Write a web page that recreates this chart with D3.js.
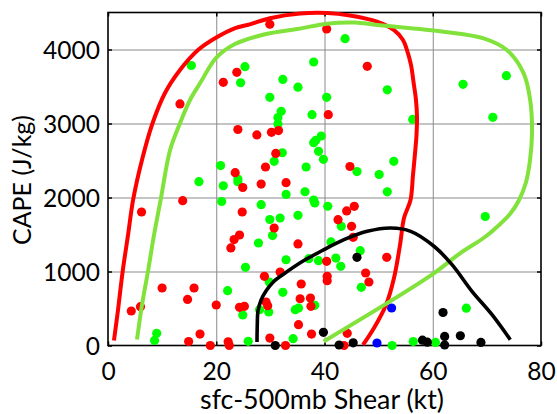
<!DOCTYPE html>
<html><head><meta charset="utf-8">
<script src="https://cdn.jsdelivr.net/npm/d3@7"></script>
<style>
html,body{margin:0;padding:0;background:#fff;}
svg{display:block;font-family:Lato,"Open Sans",sans-serif;}
</style></head>
<body><svg id="c" width="557" height="414"></svg>
<script>
// ---- data (kt, J/kg) ----
const xTicks = [0, 20, 40, 60, 80];
const yTicks = [0, 1000, 2000, 3000, 4000];
const xLabel = "sfc-500mb Shear (kt)";
const yLabel = "CAPE (J/kg)";

const greenX = [15.4,25.3,24.5,29.9,20.8,16.8,21.3,24.0,21.0,28.3,30.7,38.0,32.3,35.1,32.0,37.7,31.4,31.4,40.4,39.4,38.4,38.0,38.9,32.2,36.6,39.8,24.0,43.8,51.6,56.3,46.0,50.1,52.8,65.6,73.6,71.1,51.6,32.9,36.4,38.0,38.2,40.6,29.9,31.8,30.4,35.1,27.8,32.9,37.1,38.9,25.4,29.8,32.3,22.1,38.2,34.6,35.2,24.9,28.0,29.7,34.2,25.9,9.0,8.6,43.1,41.2,46.6,42.1,43.0,46.8,69.7,66.2,52.5,56.4,60.5];
const greenY = [3784,3768,3551,3354,2432,2214,2159,2214,1946,1903,2489,3831,3595,3491,3165,3119,3081,2993,3354,2831,2773,2741,2624,2605,2412,2516,2250,4146,3455,3055,2351,2311,2489,3530,3646,3084,2077,2041,2078,1966,1926,1882,1703,1723,1486,1759,1385,1159,1173,1146,1057,858,719,741,543,484,507,412,484,453,92,57,165,68,1611,1399,1281,1182,1070,786,1743,504,0,54,41];

const redX = [29.9,13.3,23.8,21.3,24.0,27.5,30.2,31.5,31.0,29.1,23.5,24.9,28.3,13.8,6.2,24.8,24.3,23.3,22.7,30.7,35.1,32.9,40.4,47.9,40.7,44.7,45.5,44.1,42.5,45.0,45.3,51.5,40.4,40.5,40.5,47.6,48.2,31.8,28.9,35.7,35.5,37.4,37.5,29.2,29.5,24.3,25.2,20.0,10.0,15.9,14.7,4.3,6.0,17.0,14.9,18.9,22.2,22.4,29.9,32.8,35.2,37.6,44.2,43.6];
const redY = [4341,3264,3692,3557,2919,2845,2881,2905,2595,2412,2335,2135,2182,1957,1804,1804,1493,1432,1318,1588,1372,2200,4277,3773,3119,2419,1881,1818,1700,1611,1462,1192,1138,935,876,980,858,993,935,831,632,642,530,588,538,516,530,547,777,777,622,466,524,155,54,0,51,0,101,0,281,155,165,0];

const blackX = [30.9,39.8,42.7,45.3,46.0,58.1,59.0,61.9,62.2,62.2,65.1,68.9];
const blackY = [0,178,7,36,1192,72,45,446,122,7,132,41];

const blueX = [52.4,49.7];
const blueY = [507,34];

// envelope curves
const redCurveX = [1.1,1.85,2.72,3.7,4.67,6.28,8.18,10.53,13.3,16.63,20.0,23.5,26.2,29.9,35.5,40.5,44.7,49.7,52.8,54.5,55.24,55.98,56.48,56.9,57.09,57.0,56.78,56.35,55.89,54.69,53.95,52.84,51.36,49.14,47.11];
const redCurveY = [68,480,1007,1493,1980,2507,2993,3412,3723,3993,4162,4290,4340,4422,4486,4493,4459,4376,4264,4128,3993,3791,3543,3318,3092,2845,2642,2304,1966,1723,1358,912,547,236,7];

const greenCurveX = [5.36,6.28,7.39,8.5,9.79,11.46,13.3,15.15,17.0,20.05,23.46,29.19,35.29,40.46,45.6,49.7,62.0,69.4,73.7,76.8,78.0,78.34,77.97,77.23,75.93,74.27,72.06,69.65,64.85,59.86,39.85];
const greenCurveY = [81,547,1003,1493,1993,2639,3003,3318,3543,3892,4074,4209,4281,4349,4364,4331,4241,4151,3993,3678,3318,2868,2503,2206,1963,1777,1615,1466,1236,957,54];

const blackCurveX = [27.53,27.58,27.71,28.27,29.19,30.67,32.28,35.97,39.9,43.6,47.91,52.23,55.93,60.23,63.56,67.25,70.95,74.33];
const blackCurveY = [47,277,466,612,736,869,957,1138,1295,1430,1543,1588,1543,1341,1092,732,416,78];

// ---- layout ----
const L = 108, R = 541, T = 12.5, B = 345.5;
const svg = d3.select("#c");
const x = d3.scaleLinear().domain([0, 80]).range([L, R]);
const y = d3.scaleLinear().domain([0, 4500]).range([B, T]);

// gridlines
svg.append("g").attr("transform", `translate(0,${B})`)
  .call(d3.axisBottom(x).tickValues([20, 40, 60]).tickSize(-(B - T)).tickFormat(""))
  .call(g => g.select(".domain").remove())
  .call(g => g.selectAll("line").attr("stroke", "#8a8a8a").attr("stroke-width", 1));
svg.append("g").attr("transform", `translate(${L},0)`)
  .call(d3.axisLeft(y).tickValues([1000, 2000, 3000, 4000]).tickSize(-(R - L)).tickFormat(""))
  .call(g => g.select(".domain").remove())
  .call(g => g.selectAll("line").attr("stroke", "#8a8a8a").attr("stroke-width", 1));

// inward ticks on all sides
const tk = 4;
svg.append("g").attr("transform", `translate(0,${B})`).call(d3.axisBottom(x).tickValues(xTicks).tickSize(-tk).tickFormat(""));
svg.append("g").attr("transform", `translate(0,${T})`).call(d3.axisTop(x).tickValues(xTicks).tickSize(-tk).tickFormat(""));
svg.append("g").attr("transform", `translate(${L},0)`).call(d3.axisLeft(y).tickValues(yTicks).tickSize(-tk).tickFormat(""));
svg.append("g").attr("transform", `translate(${R},0)`).call(d3.axisRight(y).tickValues(yTicks).tickSize(-tk).tickFormat(""));
svg.selectAll(".domain").remove();
svg.selectAll(".tick line").filter(function(){return this.getAttribute("stroke")!=="#8a8a8a";}).attr("stroke","#000").attr("stroke-width",1.5);

// frame
svg.append("rect").attr("x", L).attr("y", T).attr("width", R - L).attr("height", B - T)
  .attr("fill", "none").attr("stroke", "#000").attr("stroke-width", 1.6);

// dots
const dotR = 4.6;
function dots(xs, ys, col) {
  svg.append("g").selectAll("circle").data(xs.map((d, i) => [d, ys[i]])).join("circle")
    .attr("cx", d => x(d[0])).attr("cy", d => y(d[1])).attr("r", dotR).attr("fill", col);
}
dots(greenX, greenY, "#00ff00");
dots(redX, redY, "#ff0000");
dots(blackX, blackY, "#000000");
dots(blueX, blueY, "#0000ff");

// curves
const line = d3.line().x(d => x(d[0])).y(d => y(d[1])).curve(d3.curveCatmullRom.alpha(0.5));
function curve(xs, ys, col, w) {
  svg.append("path").datum(xs.map((d, i) => [d, ys[i]])).attr("d", line)
    .attr("fill", "none").attr("stroke", col).attr("stroke-width", w)
    .attr("stroke-linecap", "butt").attr("stroke-linejoin", "round");
}
curve(redCurveX, redCurveY, "#ff0000", 4);
curve(greenCurveX, greenCurveY, "#82e23c", 4);
curve(blackCurveX, blackCurveY, "#000000", 3.6);

// tick labels
function fit(sel, target) {
  sel.attr("font-size", 20);
  const w = sel.node().getComputedTextLength();
  return 20 * target / w;
}
const probe = svg.append("text").text("4000");
const fs = fit(probe, 57);
probe.remove();

svg.append("g").attr("transform", `translate(${L},0)`)
  .call(d3.axisLeft(y).tickValues(yTicks).tickSize(0).tickPadding(8).tickFormat(d3.format("d")))
  .call(g => g.select(".domain").remove())
  .call(g => g.selectAll("text").attr("font-size", fs).attr("font-family", "Lato").attr("fill", "#000").attr("dy", "0.36em"));
svg.append("g").attr("transform", `translate(0,${B})`)
  .call(d3.axisBottom(x).tickValues(xTicks).tickSize(0).tickPadding(0).tickFormat(d3.format("d")))
  .call(g => g.select(".domain").remove())
  .call(g => g.selectAll("text").attr("font-size", fs).attr("font-family", "Lato").attr("fill", "#000").attr("dy", null).attr("y", 380 - B));

// titles
const xt = svg.append("text").text(xLabel).attr("font-family", "Lato");
xt.attr("font-size", fit(xt, 244)).attr("x", 322).attr("y", 408.5).attr("text-anchor", "middle");
const yt = svg.append("text").text(yLabel).attr("font-family", "Lato");
yt.attr("font-size", fit(yt, 130)).attr("text-anchor", "middle")
  .attr("transform", "translate(31,180) rotate(-90)");
</script></body></html>
